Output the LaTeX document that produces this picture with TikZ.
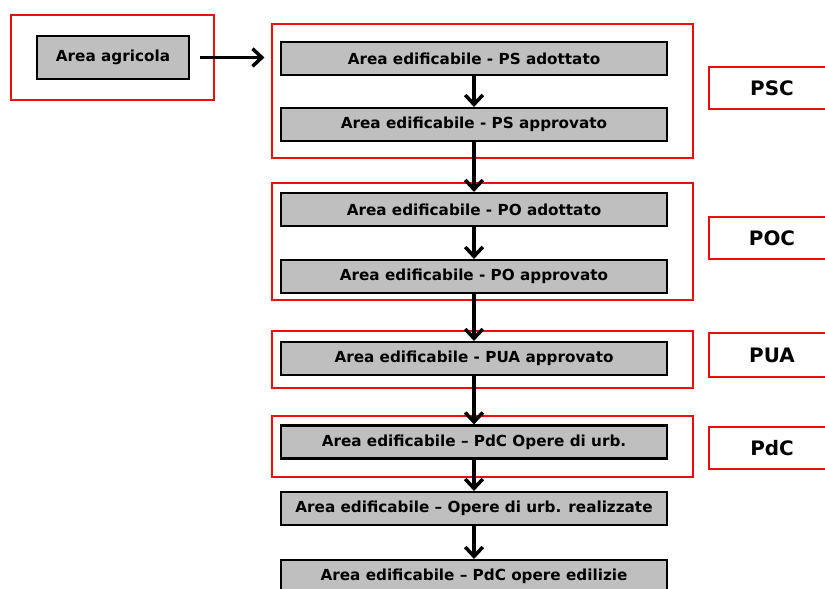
\documentclass[tikz,border=0pt]{standalone}
\usepackage{fontspec}
\setmainfont{DejaVu Sans}
\usepackage{tikz}
\usetikzlibrary{arrows.meta,positioning}
\definecolor{colorframe}{rgb}{0.93, 0.05, 0.05}
\definecolor{colorstage}{rgb}{0.75, 0.75, 0.75}
\tikzstyle{stage}=[rectangle, draw=black, line width=1.8pt, fill=colorstage, minimum width=11.58cm, minimum height=0.99cm, inner sep=0pt, font=\fontsize{13}{15}\selectfont\bfseries]
\tikzstyle{phase}=[rectangle, draw=colorframe, line width=1.5pt, inner sep=0pt]
\tikzstyle{plan}=[rectangle, draw=colorframe, line width=1.5pt, minimum width=3.78cm, inner sep=0pt, font=\fontsize{17}{19}\selectfont\bfseries]
\tikzstyle{flow}=[->, line width=3pt, >={Straight Barb[length=8pt,width=15pt]}]
\newcommand{\edif}{Area edificabile}

\begin{document}
\begin{tikzpicture}
	\clip (0,0) rectangle (24.75,-17.64);
	
	\node[phase, minimum width=6.09cm, minimum height=2.55cm] at (3.375, -1.725) (fAgr) {};
	\node[phase, minimum width=12.63cm, minimum height=4.02cm] at (14.475, -2.73) (fPSC) {};
	\node[phase, minimum width=12.63cm, minimum height=3.51cm] at (14.475, -7.245) (fPOC) {};
	\node[phase, minimum width=12.63cm, minimum height=1.71cm] at (14.475, -10.785) (fPUA) {};
	\node[phase, minimum width=12.63cm, minimum height=1.83cm] at (14.475, -13.395) (fPdC) {};
	
	\node[stage, minimum width=4.56cm, minimum height=1.29cm] at (3.39, -1.725) (agr) {Area agricola};
	
	\node[stage] at (14.22, -1.755) (s1) {\edif{} - PS adottato};
	\node[stage] at (14.22, -3.735) (s2) {\edif{} - PS approvato};
	\node[stage] at (14.22, -6.285) (s3) {\edif{} - PO adottato};
	\node[stage] at (14.22, -8.295) (s4) {\edif{} - PO approvato};
	\node[stage] at (14.22, -10.755) (s5) {\edif{} - PUA approvato};
	\node[stage] at (14.22, -13.26) (s6) {\edif{} – PdC Opere di urb.};
	\node[stage] at (14.22, -15.255) (s7) {\edif{} – Opere di urb. realizzate};
	\node[stage] at (14.22, -17.295) (s8) {\edif{} – PdC opere edilizie};
	
	\node[plan, minimum height=1.26cm] at (23.16, -2.64) (pPSC) {PSC};
	\node[plan, minimum height=1.26cm] at (23.16, -7.14) (pPOC) {POC};
	\node[plan, minimum height=1.32cm] at (23.16, -10.65) (pPUA) {PUA};
	\node[plan, minimum height=1.26cm] at (23.16, -13.44) (pPdC) {PdC};
	
	\draw[flow, shorten <=0.3cm, shorten >=0.2cm] (agr.east) -- (agr.east -| fPSC.west);
	\foreach \a/\b in {s1/s2, s2/s3, s3/s4, s4/s5, s5/s6, s6/s7, s7/s8}
		\path (\a) edge[flow] (\b);
	
\end{tikzpicture}
\end{document}
